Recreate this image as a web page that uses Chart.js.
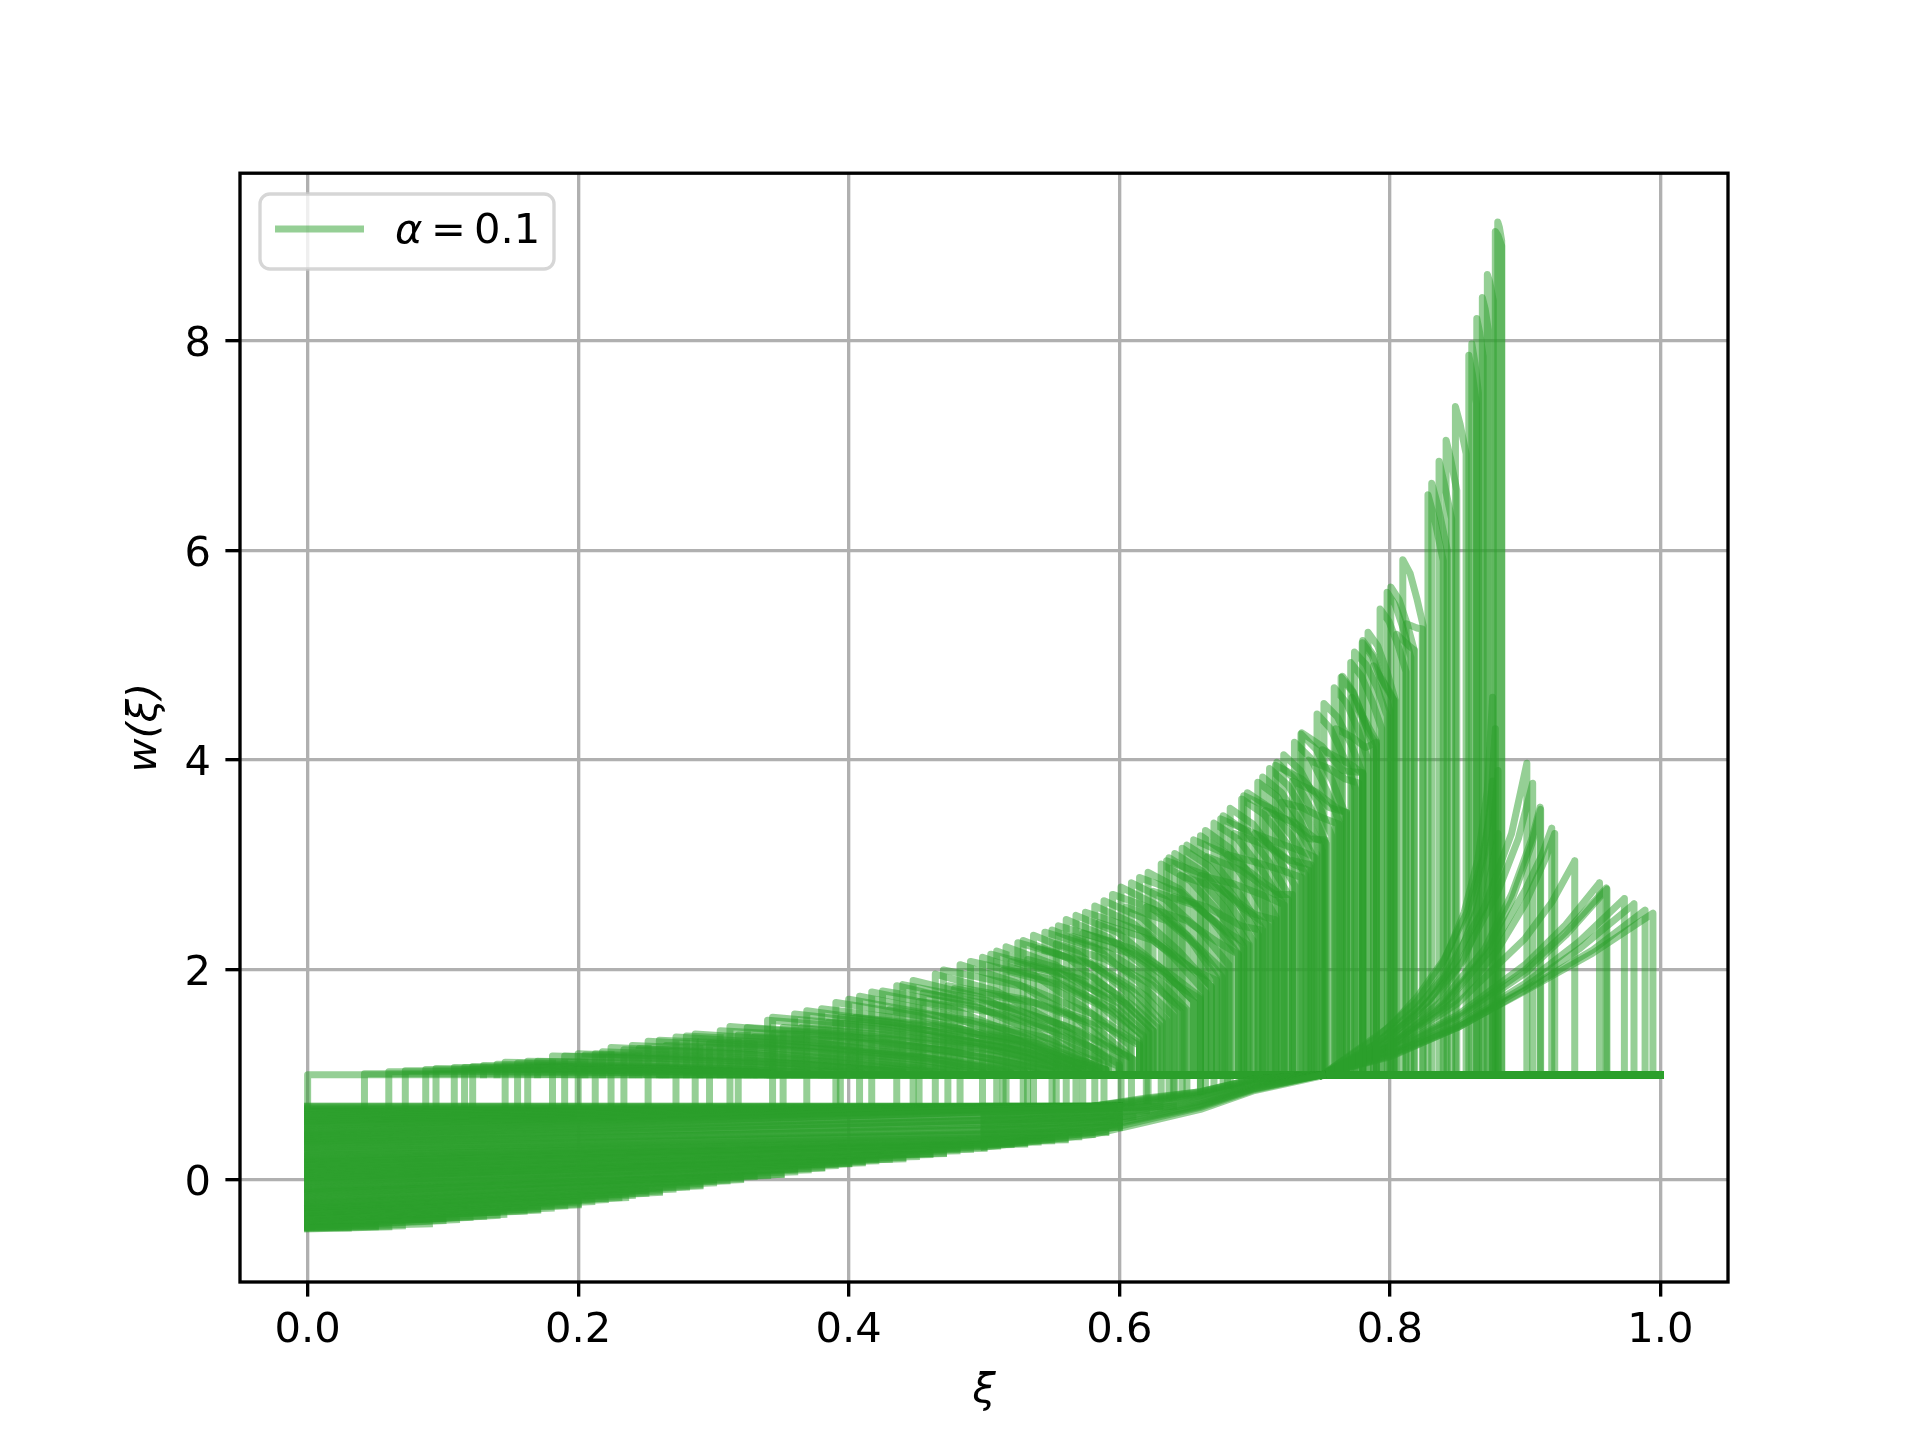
<!DOCTYPE html>
<html>
<head>
<meta charset="utf-8">
<title>w(xi)</title>
<script src="https://cdn.jsdelivr.net/npm/chart.js@4/dist/chart.umd.min.js"></script>
<style>
body { margin: 0; background: #fff; }
canvas { display: block; }
</style>
</head>
<body>
<canvas id="myChart" width="1920" height="1440"></canvas>
<script>
const xTicks = [0, 0.2, 0.4, 0.6, 0.8, 1];
const yTicks = [0, 2, 4, 6, 8];
const flatLevel = 1;

// lower band: [w at xi=0, xi where the run stops, w there]
const bandRuns = [
  [-.46,.03,-.46],[-.46,.05,-.45],[-.46,.07,-.44],[-.45,.09,-.42],[-.44,.11,-.38],[-.42,.12,-.36],
  [-.41,.13,-.35],[-.40,.145,-.33],[-.38,.16,-.30],[-.37,.17,-.28],[-.36,.18,-.27],[-.35,.19,-.25],
  [-.33,.2,-.23],[-.32,.21,-.21],[-.31,.22,-.19],[-.29,.23,-.17],[-.28,.24,-.15],[-.26,.25,-.13],
  [-.25,.26,-.11],[-.24,.27,-.09],[-.22,.28,-.07],[-.21,.29,-.05],[-.19,.3,-.03],[-.17,.31,-.01],
  [-.15,.32,.01],[-.13,.33,.03],[-.11,.34,.04],[-.10,.35,.05],[-.08,.36,.075],[-.06,.37,.095],
  [-.04,.38,.115],[-.02,.39,.135],[0,.4,.155],[.02,.41,.17],[.03,.42,.18],[.05,.43,.195],
  [.06,.44,.21],[.08,.45,.22],[.09,.46,.24],[.11,.47,.255],[.13,.48,.275],[.14,.49,.29],
  [.16,.5,.31],[.18,.51,.32],[.19,.52,.335],[.21,.53,.35],[.23,.54,.36],[.25,.55,.37],
  [.27,.56,.39],[.29,.57,.41],[.31,.58,.43],[.33,.59,.46],[.35,.6,.5],[.37,.6,.55],
  [.39,.6,.58],[.41,.61,.6],[.43,.62,.66],[.45,.63,.7],[.47,.64,.7],[.5,.6,.7],
  [.52,.6,.7],[.54,.6,.7],[.56,.6,.7],[.58,.6,.7],[.6,.6,.7],[.62,.6,.7],
  [.64,.6,.7],[.66,.6,.7],[.68,.6,.7],[.7,.6,.7],[.7,.58,.7]
];

// second layer of the band, the picture is solid there
const bandRunsUpper = [
  [-.47,.06,-.45],[-.45,.1,-.39],[-.43,.14,-.34],[-.39,.17,-.29],[-.34,.2,-.24],[-.3,.235,-.17],
  [-.27,.26,-.12],[-.23,.29,-.06],[-.18,.32,0],[-.12,.35,.05],[-.07,.38,.11],[-.01,.41,.16],
  [.04,.44,.2],[.1,.47,.25],[.15,.5,.3],[.2,.53,.34],[.26,.56,.38],[.32,.59,.45],[.36,.6,.5],
  [-.45,.05,-.44],[-.42,.1,-.37],[-.37,.14,-.31],[-.32,.2,-.2],[-.27,.25,-.1],[-.2,.3,0],
  [-.14,.33,.05],[-.09,.36,.1],[-.03,.4,.15],[.01,.42,.2],[.07,.46,.25],[.12,.48,.3],
  [.17,.52,.35],[.22,.55,.4],[.28,.57,.45],[.34,.6,.52],[.38,.6,.56],[.4,.6,.6],[.42,.6,.62],
  [.44,.6,.65],[.46,.6,.68],[.48,.6,.7],[.51,.6,.7],[.53,.6,.7],[.55,.6,.7],[.57,.6,.7],
  [.59,.6,.7],[.61,.6,.7],[.63,.6,.7],[.65,.6,.7],[.67,.6,.7],[.69,.6,.7]
];

// band narrowing towards w=1
const wedgeXi = [.5, .58, .62, .66, .7, .75];
const wedgeRuns = [
  [.31,.43,.55,.67,.85,.99],[.33,.45,.57,.69,.86,1],[.36,.48,.59,.7,.87,1],
  [.39,.5,.6,.71,.87,1],[.42,.53,.62,.72,.88,1],[.45,.55,.64,.74,.89,1],
  [.48,.58,.66,.75,.9,1],[.51,.6,.68,.77,.91,1],[.54,.63,.7,.78,.92,1],
  [.57,.65,.72,.8,.93,1],[.6,.67,.74,.81,.94,1],[.63,.69,.75,.82,.95,1],
  [.66,.7,.76,.83,.96,1],[.68,.7,.77,.84,.96,1],[.7,.7,.78,.84,.96,1]
];

// [foot, xi start, peak, x1,y1, x2,y2, xi end, w end]
const arcsLeft = [
  [.7,0,1,.02,1,.04,1,.06,1],[.7,.042,1.01,.08,1.01,.14,1.01,.2,1],[.7,.06,1.03,.1265,1.03,.193,1.02,.25,1.02],
  [.7,.0722,1.04,.12,1.04,.2,1.03,.26,1.02],[.7,.0873,1.05,.15,1.05,.23,1.04,.29,1.02],
  [.7,.0949,1.06,.16,1.05,.24,1.04,.31,1.02],[.7,.1084,1.07,.18,1.06,.26,1.05,.33,1.02],
  [.7,.116,1.07,.19,1.06,.27,1.05,.34,1.02],[.7,.122,1.08,.198,1.07,.2746,1.05,.34,1.02],
  [.7,.146,1.12,.2279,1.1,.3098,1.06,.38,1.02],[.7,.1552,1.11,.23,1.09,.31,1.06,.39,1.02],
  [.7,.1627,1.13,.24,1.11,.33,1.07,.41,1.02],[.7,.181,1.18,.2647,1.15,.3483,1.09,.42,1.02],
  [.7,.19,1.18,.27,1.15,.36,1.1,.44,1.03],[.7,.2,1.2,.284,1.16,.368,1.1,.44,1.02],
  [.7,.2126,1.2,.3,1.16,.38,1.1,.46,1.03],[.7,.2243,1.26,.31,1.21,.3963,1.12,.47,1.02],
  [.7,.2338,1.24,.32,1.2,.4,1.13,.48,1.03],[.7,.2517,1.32,.3386,1.26,.4255,1.15,.5,1.02],
  [.7,.2723,1.36,.3626,1.29,.4529,1.16,.53,1.02],[.7,.2865,1.39,.3682,1.32,.4499,1.18,.52,1.02],
  [.7,.2971,1.3,.38,1.25,.46,1.16,.53,1.03],[.7,.3122,1.46,.399,1.37,.4858,1.2,.56,1.02],
  [.7,.3183,1.38,.4,1.32,.48,1.21,.55,1.03],[.7,.3437,1.55,.43,1.45,.516,1.26,.59,1.05],
  [.7,.3515,1.45,.43,1.38,.5,1.26,.57,1.03],[.7,.369,1.61,.4376,1.49,.5062,1.27,.565,1.02],
  [.7,.3905,1.69,.4533,1.56,.5162,1.3,.57,1.02],[.7,.3938,1.55,.46,1.46,.53,1.31,.585,1.03],
  [.7,.408,1.75,.4665,1.6,.5249,1.33,.575,1.02],[.7,.417,1.79,.474,1.64,.5311,1.35,.58,1.03],
  [.7,.4355,1.85,.4878,1.69,.5402,1.39,.585,1.06],[.7,.4476,1.9,.4975,1.74,.5473,1.44,.59,1.1],
  [.7,.452,1.7,.51,1.59,.56,1.41,.6,1.1],[.7,.464,1.96,.5088,1.8,.5536,1.49,.592,1.15],
  [.7,.4733,1.85,.53,1.72,.58,1.48,.61,1.15],[.7,.4823,2.05,.5235,1.88,.5646,1.57,.6,1.22],
  [.7,.4989,2.12,.537,1.95,.5752,1.63,.608,1.28],[.7,.5094,2.18,.5464,2.01,.5834,1.69,.615,1.33],
  [.7,.5141,2,.555,1.86,.595,1.6,.618,1.37],[.7,.5163,2.22,.5525,2.05,.5888,1.74,.62,1.39],
  [.7,.529,2.28,.5626,2.11,.5962,1.78,.625,1.42],[.7,.5322,2.1,.58,1.93,.61,1.66,.628,1.45],
  [.7,.5366,2.33,.5693,2.16,.602,1.83,.63,1.47],[.7,.5503,2.38,.5817,2.22,.613,1.9,.64,1.56],
  [.7,.5534,2.25,.59,2.1,.625,1.85,.648,1.62],[.7,.5608,2.48,.592,2.31,.6232,1.98,.65,1.62],
  [.7,.568,2.52,.5985,2.36,.6289,2.04,.655,1.7],[.7,.573,2.35,.61,2.2,.64,1.94,.66,1.74],
  [.7,.5819,2.61,.6106,2.44,.6394,2.13,.664,1.78],[.7,.5887,2.66,.6164,2.5,.6441,2.18,.668,1.84]
];

const arcsMiddle = [
  [.72,.6013,2.79,.6274,2.62,.6535,2.29,.676,1.93],[.73,.609,2.83,.6342,2.67,.6594,2.38,.681,2.05],
  [.75,.62,2.6,.65,2.47,.672,2.27,.688,2.15],[.75,.6213,2.93,.6447,2.77,.668,2.48,.688,2.15],
  [.77,.631,3.01,.6524,2.85,.6737,2.55,.692,2.22],[.78,.6368,3.07,.6575,2.9,.6782,2.59,.696,2.24],
  [.79,.64,2.7,.665,2.6,.69,2.42,.705,2.38],[.8,.641,3.11,.6613,2.94,.6816,2.63,.699,2.28],
  [.81,.6465,3.16,.6663,2.99,.686,2.68,.703,2.33],[.82,.65,3.19,.6696,3.03,.6892,2.72,.706,2.38],
  [.84,.66,3.28,.6782,3.12,.6964,2.8,.712,2.46],[.84,.66,2.9,.685,2.82,.705,2.72,.722,2.62],
  [.86,.6637,3.33,.682,3.16,.7,2.85,.716,2.5],[.87,.67,3.4,.6875,3.25,.705,2.96,.72,2.65],
  [.89,.6768,3.47,.6937,3.32,.7106,3.03,.725,2.72],[.9,.68,3.1,.7,3.03,.72,2.95,.735,2.88],
  [.9,.682,3.54,.6988,3.39,.7156,3.11,.73,2.8],[.92,.6905,3.63,.7071,3.48,.7237,3.21,.738,2.9],
  [.94,.6947,3.69,.711,3.55,.7271,3.28,.741,2.98],[.96,.7,3.3,.72,3.2,.735,3.13,.745,3.07],
  [.97,.7024,3.79,.717,3.65,.7315,3.37,.744,3.07],[.98,.706,3.84,.72,3.69,.734,3.41,.746,3.1],
  [1,.7111,3.92,.7247,3.76,.7383,3.47,.75,3.14],[1,.7165,3.98,.7293,3.82,.742,3.53,.753,3.2],
  [1,.72,3.6,.735,3.55,.75,3.45,.762,3.39],[1,.7216,4.05,.734,3.9,.7465,3.6,.757,3.28],
  [1,.7295,4.17,.7413,4.02,.7531,3.72,.763,3.4],[1,.7343,4.25,.7457,4.1,.7572,3.81,.767,3.49],
  [1,.74,4,.755,3.92,.767,3.82,.777,3.78],[1,.7462,4.44,.7562,4.3,.7663,4.02,.775,3.72],
  [1,.7513,4.54,.7613,4.41,.7714,4.15,.78,3.87],[1,.7589,4.69,.7677,4.55,.7765,4.29,.784,4],
  [1,.76,4.3,.772,4.22,.782,4.12,.79,4.17],[1,.764,4.79,.7724,4.65,.7808,4.39,.788,4.1],
  [1,.7711,4.93,.779,4.8,.787,4.56,.794,4.3],[1,.7739,5.03,.7824,4.91,.7909,4.68,.798,4.42],
  [1,.7796,5.12,.787,4.99,.794,4.74,.8,4.47],[1,.7839,5.22,.791,5.09,.798,4.84,.804,4.57],
  [1,.7928,5.44,.7995,5.32,.8062,5.09,.812,4.84],[1,.798,5.6,.804,5.48,.8103,5.24,.8155,4.98],
  [1,.8007,5.65,.8068,5.53,.8128,5.3,.818,5.05],[1,.8096,5.91,.815,5.78,.82,5.54,.8247,5.28]
];

// arcs nested under the upper edge, no foot below w=1
const arcsNested = [
  [1,.13,1.09,.2,1.08,.28,1.06,.35,1.02],[1,.14,1.1,.22,1.08,.3,1.06,.37,1.02],
  [1,.17,1.13,.25,1.11,.33,1.07,.4,1.02],[1,.205,1.19,.29,1.15,.37,1.1,.45,1.02],
  [1,.218,1.22,.3,1.18,.39,1.12,.46,1.02],[1,.24,1.28,.33,1.23,.41,1.15,.49,1.02],
  [1,.245,1.25,.33,1.21,.42,1.13,.5,1.02],[1,.26,1.33,.35,1.28,.44,1.17,.51,1.02],
  [1,.265,1.28,.35,1.24,.44,1.16,.52,1.02],[1,.28,1.37,.37,1.31,.46,1.2,.54,1.02],
  [1,.29,1.32,.38,1.27,.47,1.18,.55,1.03],[1,.305,1.42,.39,1.36,.47,1.24,.55,1.04],
  [1,.325,1.45,.41,1.38,.49,1.26,.56,1.05],[1,.33,1.36,.42,1.3,.5,1.2,.57,1.03],
  [1,.34,1.52,.42,1.44,.5,1.3,.57,1.08],[1,.345,1.4,.43,1.34,.51,1.23,.58,1.03],
  [1,.36,1.58,.43,1.48,.51,1.32,.58,1.08],[1,.365,1.45,.44,1.38,.52,1.25,.58,1.03],
  [1,.38,1.63,.45,1.52,.52,1.35,.58,1.1],[1,.385,1.5,.46,1.42,.53,1.28,.59,1.05],
  [1,.4,1.72,.46,1.58,.53,1.38,.585,1.12],[1,.405,1.55,.47,1.46,.54,1.3,.59,1.05],
  [1,.425,1.8,.49,1.66,.55,1.42,.6,1.15],[1,.43,1.62,.49,1.52,.55,1.34,.6,1.08],
  [1,.44,1.86,.5,1.71,.56,1.47,.605,1.18],[1,.455,1.78,.52,1.64,.57,1.42,.61,1.15],
  [1,.47,2,.53,1.84,.58,1.58,.615,1.3],[1,.478,1.82,.54,1.68,.59,1.46,.615,1.28],
  [1,.49,2.08,.55,1.91,.595,1.63,.618,1.36],[1,.505,2.15,.555,1.98,.6,1.68,.622,1.4],
  [1,.52,2.08,.57,1.92,.605,1.68,.625,1.42],[1,.525,2.26,.575,2.08,.61,1.8,.632,1.5],
  [1,.54,2.2,.585,2.03,.62,1.75,.635,1.52],[1,.545,2.36,.59,2.18,.625,1.9,.645,1.6],
  [1,.555,2.42,.6,2.25,.635,1.96,.655,1.7],[1,.565,2.32,.61,2.15,.64,1.88,.66,1.72],
  [1,.575,2.55,.62,2.36,.65,2.05,.668,1.84],[1,.585,2.45,.625,2.28,.655,2,.672,1.9],
  [1,.595,2.72,.625,2.58,.65,2.33,.672,1.92],[1,.605,2.6,.635,2.47,.66,2.2,.678,1.98],
  [1,.615,2.88,.645,2.74,.67,2.47,.69,2.2],[1,.625,2.75,.655,2.62,.68,2.36,.695,2.24],
  [1,.635,3.04,.665,2.9,.69,2.6,.71,2.42],[1,.645,2.9,.675,2.77,.7,2.53,.715,2.48],
  [1,.655,3.24,.68,3.1,.705,2.85,.725,2.67],[1,.665,3.08,.69,2.95,.715,2.72,.728,2.72],
  [1,.675,3.44,.7,3.3,.725,3.05,.742,3],[1,.685,3.3,.71,3.18,.73,3,.74,2.95],
  [1,.692,3.66,.715,3.52,.74,3.25,.752,3.24],[1,.708,3.52,.73,3.4,.745,3.25,.752,3.22],
  [1,.7155,3.95,.735,3.82,.755,3.55,.768,3.5],[1,.728,3.8,.745,3.7,.76,3.55,.768,3.5],
  [1,.735,4.26,.75,4.13,.765,3.9,.78,3.88],[1,.75,4.1,.762,4.02,.772,3.95,.78,3.87],
  [1,.765,4.8,.773,4.65,.78,4.42,.79,4.18],[1,.772,4.6,.778,4.45,.785,4.25,.79,4.15],
  [1,.78,5.14,.788,5,.796,4.72,.803,4.57],[1,.788,4.9,.795,4.75,.8,4.65,.803,4.57],
  [1,.805,5.2,.81,5.14,.815,5.08,.818,5.05],[1,.812,5.3,.816,5.28,.82,5.26,.824,5.25]
];

// tall narrow spikes: [xi start, peak, mid xi, mid w, xi end, w end]
const spikes = [
  [.8282,6.53,.833,6.3,.8395,5.9],[.831,6.64,.836,6.4,.8425,6],[.8364,6.85,.84,6.65,.8457,6.3],
  [.8416,7.05,.845,6.87,.8495,6.57],[.8485,7.37,.852,7.2,.8564,6.92],[.8584,7.86,.861,7.68,.864,7.4],
  [.8606,7.97,.863,7.78,.8655,7.5],[.8643,8.21,.8665,8.07,.869,7.85],[.8684,8.41,.8705,8.3,.8728,8.1],
  [.8721,8.63,.874,8.55,.8765,8.38],[.878,9.04,.88,9,.8827,8.9],[.8798,9.13,.881,9.08,.8827,8.95]
];

// curves leaving (0.75, 1), as xi,w pairs ending on their peak
const risingCurves = [
  [.75,1,.78,1.2,.81,1.5,.84,1.93,.87,2.6,.89,3.3,.9013,3.97],
  [.75,1,.79,1.27,.82,1.58,.85,2.02,.88,2.75,.895,3.25,.9056,3.78],
  [.75,1,.8,1.3,.84,1.72,.87,2.2,.89,2.72,.905,3.25,.9111,3.55],
  [.75,1,.8,1.28,.84,1.68,.87,2.14,.89,2.66,.905,3.2,.9115,3.53],
  [.75,1,.8,1.28,.84,1.66,.875,2.2,.9,2.76,.912,3.08,.9197,3.35],
  [.75,1,.8,1.27,.85,1.72,.88,2.2,.9,2.63,.915,3.06,.9219,3.3],
  [.75,1,.8,1.27,.85,1.68,.9,2.3,.92,2.65,.9367,3.04],
  [.75,1,.8,1.24,.85,1.57,.9,2.05,.93,2.43,.955,2.83],
  [.75,1,.8,1.23,.85,1.55,.9,2,.93,2.36,.96,2.78],
  [.75,1,.8,1.22,.85,1.53,.9,1.97,.93,2.33,.9605,2.77],
  [.75,1,.8,1.2,.85,1.47,.9,1.87,.94,2.27,.9734,2.68],
  [.75,1,.8,1.19,.85,1.46,.9,1.84,.94,2.2,.9805,2.63],
  [.75,1,.8,1.18,.85,1.45,.9,1.81,.95,2.19,.9887,2.57],
  [.75,1,.8,1.17,.85,1.45,.9,1.8,.95,2.16,.9945,2.54]
];

const steepCurves = [
  [.75,1,.8,1.46,.82,1.74,.84,2.1,.857,2.55,.868,3.05,.874,3.49,.878,4.3],
  [.75,1,.79,1.35,.82,1.7,.84,2.08,.855,2.55,.865,3.05,.872,3.7,.876,4.6],
  [.75,1,.79,1.3,.82,1.64,.84,1.96,.86,2.56,.87,3.1,.876,3.8],
  [.75,1,.8,1.36,.83,1.72,.85,2.1,.865,2.6,.876,3.3,.88,3.9],
  [.75,1,.8,1.33,.83,1.66,.855,2.1,.87,2.6,.88,3.3]
];

const green = "rgba(44,160,44,0.5)";
const lineW = 7;
const frameW = 3.33;
const fontPx = 41.67;
const fontName = '"DejaVu Sans"';

function pairs(list) {
    const pts = [];
    for (let i = 0; i < list.length; i += 2) pts.push({ x: list[i], y: list[i + 1] });
    return pts;
}

function trace(pts) {
    return {
        data: pts,
        borderColor: green,
        backgroundColor: green,
        borderWidth: lineW,
        borderCapStyle: "square",
        borderJoinStyle: "round",
        pointRadius: 0,
        fill: false,
        tension: 0
    };
}

const datasets = [];
bandRuns.concat(bandRunsUpper).forEach(r => datasets.push(trace(pairs([0, r[0], r[1], r[2]]))));
wedgeRuns.forEach(r => datasets.push(trace(r.map((w, i) => ({ x: wedgeXi[i], y: w })))));
arcsLeft.concat(arcsMiddle, arcsNested).forEach(r => {
    datasets.push(trace(pairs([r[1], r[0], r[1], r[2], r[3], r[4], r[5], r[6], r[7], r[8], r[7], flatLevel, 1, flatLevel])));
});
spikes.forEach(r => {
    datasets.push(trace(pairs([r[0], flatLevel, r[0], r[1], r[2], r[3], r[4], r[5], r[4], flatLevel, 1, flatLevel])));
});
risingCurves.concat(steepCurves).forEach(r => {
    const last = r[r.length - 2];
    datasets.push(trace(pairs(r.concat([last, flatLevel, 1, flatLevel]))));
});

// frame on all four sides, y tick labels on their digit centre, legend box
const framePlugin = {
    id: "frameAndLegend",
    afterDatasetsDraw(chart) {
        const ctx = chart.ctx;
        const a = chart.chartArea;
        ctx.save();
        ctx.strokeStyle = "#000";
        ctx.lineWidth = frameW;
        ctx.strokeRect(a.left, a.top, a.right - a.left, a.bottom - a.top);

        ctx.fillStyle = "#000";
        ctx.font = fontPx + "px " + fontName;
        ctx.textAlign = "right";
        ctx.textBaseline = "alphabetic";
        yTicks.forEach(v => ctx.fillText(String(v), 211, chart.scales.y.getPixelForValue(v) + 15.2));
        ctx.textAlign = "left";

        ctx.beginPath();
        ctx.roundRect(260, 194, 294, 75, 10);
        ctx.fillStyle = "rgba(255,255,255,0.8)";
        ctx.fill();
        ctx.strokeStyle = "rgba(204,204,204,0.8)";
        ctx.lineWidth = frameW;
        ctx.stroke();

        ctx.beginPath();
        ctx.moveTo(275, 229);
        ctx.lineTo(364, 229);
        ctx.strokeStyle = green;
        ctx.lineWidth = lineW;
        ctx.stroke();

        ctx.fillStyle = "#000";
        ctx.font = "italic " + fontPx + "px " + fontName;
        ctx.fillText("α", 395, 243);
        ctx.font = fontPx + "px " + fontName;
        ctx.fillText("=", 431, 243);
        ctx.fillText("0.1", 474, 243);
        ctx.restore();
    }
};

var ctx = document.getElementById("myChart").getContext("2d");
var chart = new Chart(ctx, {
    type: "line",
    data: { datasets: datasets },
    options: {
        responsive: false,
        animation: false,
        parsing: false,
        layout: { padding: { top: 173.2, right: 192, left: 0, bottom: 0 } },
        plugins: { legend: { display: false }, tooltip: { enabled: false } },
        scales: {
            x: {
                type: "linear",
                min: -0.05,
                max: 1.05,
                afterBuildTicks: s => { s.ticks = xTicks.map(v => ({ value: v })); },
                afterFit: s => { s.height = 158; },
                border: { display: false },
                grid: { color: "#b0b0b0", lineWidth: frameW, tickColor: "#000", tickWidth: frameW, tickLength: 14.6 },
                ticks: {
                    color: "#000",
                    font: { family: fontName, size: fontPx },
                    padding: 9.5,
                    maxRotation: 0,
                    autoSkip: false,
                    callback: v => v.toFixed(1)
                },
                title: {
                    display: true,
                    text: "ξ",
                    color: "#000",
                    font: { family: fontName, size: fontPx, style: "italic" },
                    padding: { top: 0, bottom: 24 }
                }
            },
            y: {
                type: "linear",
                min: -0.975,
                max: 9.595,
                afterBuildTicks: s => { s.ticks = yTicks.map(v => ({ value: v })); },
                afterFit: s => { s.width = 240; },
                border: { display: false },
                grid: { color: "#b0b0b0", lineWidth: frameW, tickColor: "#000", tickWidth: frameW, tickLength: 14.6 },
                ticks: {
                    display: false
                },
                title: {
                    display: true,
                    text: "w(ξ)",
                    color: "#000",
                    font: { family: fontName, size: fontPx, style: "italic" },
                    padding: { top: 120, bottom: 0 }
                }
            }
        }
    },
    plugins: [framePlugin]
});
</script>
</body>
</html>
